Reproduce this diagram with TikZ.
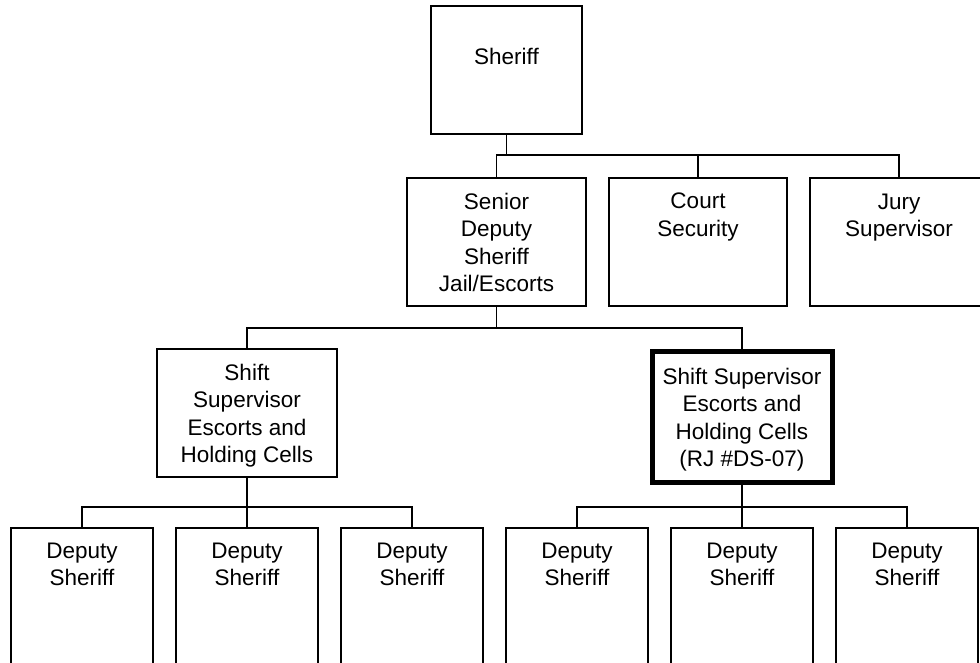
\documentclass[tikz,border=0pt]{standalone}
\usepackage{fontspec}
\setmainfont{Liberation Sans}
\usetikzlibrary{positioning}

\tikzset{
  box/.style={draw, line width=1.2pt, outer sep=0pt, inner sep=0pt, minimum height=128pt},
  title/.style={anchor=north, align=center, inner sep=0pt, yshift=-15pt, font=\fontsize{22.5}{27.3}\selectfont},
  deputy/.style={box, minimum width=142pt, minimum height=150pt, label={[title]north:{Deputy\\Sheriff}}},
  link/.style={line width=1.2pt},
}

\begin{document}
\begin{tikzpicture}[x=1pt, y=-1pt, node distance=165pt, on grid]
  \useasboundingbox (0,0) rectangle (980,662);
  \clip (0,0) rectangle (980,662);

  % Boxes of chart
  \node[box, minimum width=151pt, label={[title, yshift=-27pt]north:Sheriff}] (sheriff) at (506.5,70) {};
  \node[box, minimum width=179pt, label={[title]north:{Senior\\Deputy\\Sheriff\\Jail/Escorts}}] (senior) at (496.5,242) {};
  \node[box, minimum width=178pt, label={[title]north:{Court\\Security}}] (court) [right=201.5pt of senior] {};
  \node[box, minimum width=178pt, label={[title, yshift=-1pt]north:{Jury\\Supervisor}}] (jury) [right=201pt of court] {};
  \node[box, minimum width=180pt, label={[title]north:{Shift\\Supervisor\\Escorts and\\Holding Cells}}] (shiftL) at (247,413) {};
  \node[box, line width=5pt, minimum width=180pt, minimum height=131pt,
        label={[title, yshift=-1.5pt]north:{Shift Supervisor\\Escorts and\\Holding Cells\\(RJ \#DS-07)}}] (shiftR) at (742,417) {};
  \node[deputy] (d1) at (82,603) {};
  \node[deputy] (d2) [right=of d1] {};
  \node[deputy] (d3) [right=of d2] {};
  \node[deputy] (d4) at (577,603) {};
  \node[deputy] (d5) [right=of d4] {};
  \node[deputy] (d6) [right=of d5] {};

  % Lines of chart
  \draw[link] (sheriff.south) -- ++(0,21) coordinate (top);
  \draw[link] (senior.north) |- (top) -| (jury.north);
  \draw[link] (court.north) -- (court.north |- top);
  \draw[link] (senior.south) -- ++(0,22) coordinate (mid);
  \draw[link] (shiftL.north) |- (mid) -| (shiftR.north);
  \draw[link] (shiftL.south) -- ++(0,30) coordinate (lowL);
  \draw[link] (d1.north) |- (lowL) -| (d3.north);
  \draw[link] (lowL) -- (d2.north);
  \draw[link] (shiftR.south) -- ++(0,24.5) coordinate (lowR);
  \draw[link] (d4.north) |- (lowR) -| (d6.north);
  \draw[link] (lowR) -- (d5.north);
\end{tikzpicture}
\end{document}
